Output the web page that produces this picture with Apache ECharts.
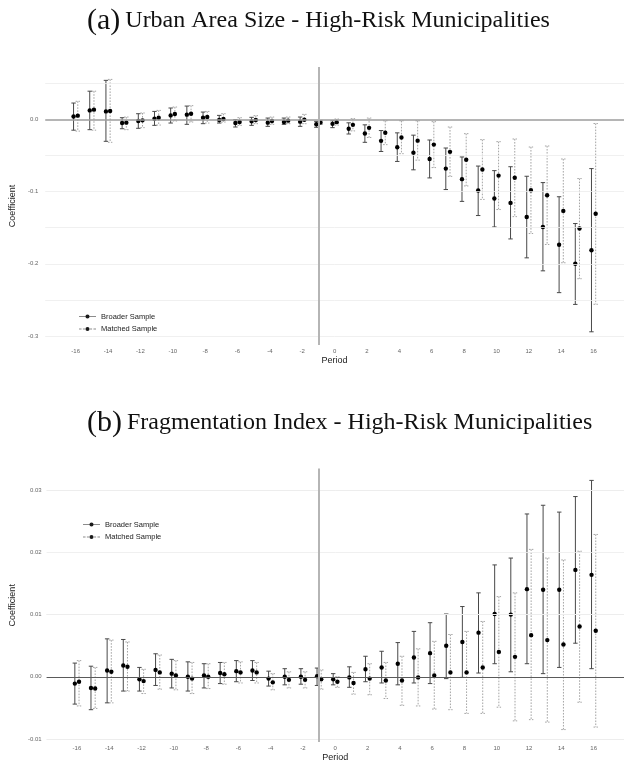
<!DOCTYPE html>
<html>
<head>
<meta charset="utf-8">
<script src="https://cdn.jsdelivr.net/npm/echarts@6/dist/echarts.min.js"></script>
<style>
  html, body { margin: 0; padding: 0; background: #ffffff; }
  #chart { width: 624px; height: 763px; }
</style>
</head>
<body>
<div id="chart"></div>
<script>
// Event-study periods relative to treatment
const periods = [-16,-15,-14,-13,-12,-11,-10,-9,-8,-7,-6,-5,-4,-3,-2,-1,0,1,2,3,4,5,6,7,8,9,10,11,12,13,14,15,16];
const periodTicks = [-16,-14,-12,-10,-8,-6,-4,-2,0,2,4,6,8,10,12,14,16];

// (a) Urban area size — broader sample: estimate, upper and lower CI
const urbanBroaderEst = [0.004,0.0124,0.011,-0.0051,-0.0023,0.0009,0.0055,0.0065,0.0023,-0.0009,-0.0051,-0.0028,-0.0046,-0.0037,-0.0032,-0.0067,-0.0062,-0.013,-0.0196,-0.0298,-0.0387,-0.0461,-0.0549,-0.0682,-0.0828,-0.0986,-0.1097,-0.1157,-0.1353,-0.149,-0.1736,-0.1999,-0.1812];
const urbanBroaderHi  = [0.0226,0.039,0.054,0.0023,0.0078,0.011,0.0157,0.0184,0.0101,0.0055,-0.0005,0.0028,0.0018,0.0018,0.0032,-0.0028,-0.002,-0.0048,-0.0076,-0.0155,-0.0187,-0.0219,-0.0286,-0.0397,-0.0521,-0.0647,-0.071,-0.0656,-0.0788,-0.0876,-0.1072,-0.1443,-0.0682];
const urbanBroaderLo  = [-0.015,-0.0143,-0.0304,-0.013,-0.0124,-0.0083,-0.0051,-0.0069,-0.006,-0.0051,-0.0106,-0.0083,-0.0097,-0.0069,-0.0097,-0.011,-0.0115,-0.0203,-0.0318,-0.0445,-0.0583,-0.0699,-0.0811,-0.0972,-0.1136,-0.1332,-0.149,-0.1656,-0.1918,-0.2098,-0.24,-0.2563,-0.2942];

// (a) Urban area size — matched sample
const urbanMatchedEst = [0.0051,0.0134,0.0115,-0.0046,-0.0014,0.0023,0.0074,0.0078,0.0032,0.0005,-0.0037,-0.0009,-0.0023,-0.0018,-0.0005,-0.0044,-0.0039,-0.0076,-0.0118,-0.0186,-0.0251,-0.0295,-0.035,-0.045,-0.056,-0.0694,-0.0779,-0.0809,-0.0982,-0.1051,-0.1268,-0.1512,-0.1307];
const urbanMatchedHi  = [0.025,0.039,0.0553,0.0032,0.0088,0.0124,0.0171,0.019,0.011,0.0078,0.0023,0.0051,0.0032,0.0032,0.0069,-0.0014,0.0005,0.001,0.0018,-0.002,-0.002,-0.002,-0.0032,-0.0106,-0.0198,-0.0281,-0.0309,-0.0272,-0.0383,-0.0369,-0.0549,-0.082,-0.0058];
const urbanMatchedLo  = [-0.0163,-0.015,-0.0318,-0.0143,-0.0115,-0.0079,-0.0023,-0.0037,-0.0051,-0.0037,-0.0083,-0.006,-0.0069,-0.006,-0.006,-0.0069,-0.008,-0.016,-0.0251,-0.035,-0.0475,-0.0565,-0.0668,-0.079,-0.0922,-0.1109,-0.1249,-0.1347,-0.1581,-0.1733,-0.1986,-0.2207,-0.2561];

// (b) Fragmentation index — broader sample
const fragBroaderEst = [-0.0011,-0.0018,0.001,0.0018,-0.0004,0.0011,0.0005,0.0,0.0002,0.0006,0.0009,0.001,-0.0003,0.0,0.0,0.0001,-0.0004,-0.0001,0.0012,0.0015,0.0021,0.0031,0.0038,0.005,0.0056,0.0071,0.0101,0.01,0.0141,0.014,0.014,0.0172,0.0164];
const fragBroaderHi  = [0.0022,0.0017,0.0061,0.006,0.0015,0.0037,0.0028,0.0024,0.0021,0.0023,0.0026,0.0026,0.0009,0.0013,0.0013,0.0014,0.0005,0.0016,0.0033,0.0041,0.0055,0.0073,0.0087,0.0101,0.0113,0.0135,0.018,0.0191,0.0262,0.0276,0.0265,0.029,0.0316];
const fragBroaderLo  = [-0.0044,-0.0053,-0.0042,-0.0023,-0.0023,-0.0014,-0.0018,-0.0023,-0.0018,-0.0011,-0.0008,-0.0006,-0.0015,-0.0013,-0.0012,-0.0014,-0.0013,-0.0017,-0.0008,-0.001,-0.0013,-0.001,-0.0011,-0.0003,-0.0001,0.0006,0.0021,0.0008,0.0021,0.0005,0.0015,0.0054,0.0013];

// (b) Fragmentation index — matched sample
const fragMatchedEst = [-0.0008,-0.0019,0.0008,0.0016,-0.0007,0.0007,0.0002,-0.0003,0.0,0.0004,0.0007,0.0007,-0.0009,-0.0005,-0.0005,-0.0004,-0.0008,-0.001,-0.0003,-0.0006,-0.0006,-0.0001,0.0002,0.0007,0.0007,0.0015,0.004,0.0032,0.0067,0.0059,0.0052,0.0081,0.0074];
const fragMatchedHi  = [0.0026,0.0015,0.0059,0.0056,0.0012,0.0035,0.0026,0.0023,0.0021,0.0023,0.0024,0.0023,0.0005,0.0008,0.0008,0.0011,0.0,0.0007,0.0021,0.0023,0.0033,0.0045,0.0057,0.0068,0.0073,0.0089,0.0129,0.0135,0.0205,0.0191,0.0188,0.0202,0.0229];
const fragMatchedLo  = [-0.0047,-0.0051,-0.0042,-0.0023,-0.0027,-0.002,-0.0021,-0.0027,-0.0019,-0.0012,-0.001,-0.001,-0.0021,-0.0018,-0.0018,-0.002,-0.0017,-0.0028,-0.0029,-0.0035,-0.0046,-0.0047,-0.0052,-0.0053,-0.0059,-0.0059,-0.0049,-0.0071,-0.0069,-0.0073,-0.0085,-0.0041,-0.0081];

// y-axis tick labels and light grid values
const urbanTicks = [-0.3,-0.2,-0.1,0.0];
const urbanGrid  = [0.05,-0.05,-0.1,-0.15,-0.2,-0.25,-0.3];
const fragTicks  = [-0.01,0.0,0.01,0.02,0.03];
const fragGrid   = [0.03,0.025,0.02,0.015,0.01,0.005,-0.005,-0.01];

const TREAT_LINE = -1;
const DODGE = 0.13;
const SANS = 'Liberation Sans';
const SERIF = 'Liberation Serif';

const solidIcon = 'path://M0,2.6H20V3.4H0Z M7.6,3A2.4,2.4 0 1 1 12.4,3A2.4,2.4 0 1 1 7.6,3Z';
const dashIcon  = 'path://M0,2.6H3V3.4H0Z M4.6,2.6H7V3.4H4.6Z M13,2.6H15.4V3.4H13Z M17,2.6H20V3.4H17Z M7.6,3A2.4,2.4 0 1 1 12.4,3A2.4,2.4 0 1 1 7.6,3Z';

const solidStyle  = { color: '#484848', width: 1, dash: null };
const dashedStyle = { color: '#8e8e8e', width: 0.8, dash: [1.6, 1.4] };

function errorBars(name, idx, est, hi, lo, dx, st) {
  return {
    type: 'custom',
    name: name,
    xAxisIndex: idx,
    yAxisIndex: idx,
    z: 4,
    itemStyle: { color: '#1a1a1a' },
    data: periods.map((p, i) => [p, est[i], lo[i], hi[i]]),
    renderItem: function (params, api) {
      const x = api.value(0) + dx;
      const pt = api.coord([x, api.value(1)]);
      const lower = api.coord([x, api.value(2)]);
      const upper = api.coord([x, api.value(3)]);
      const cap = 2.2;
      const ls = { stroke: st.color, lineWidth: st.width, lineDash: st.dash };
      return {
        type: 'group',
        children: [
          { type: 'line', shape: { x1: pt[0], y1: upper[1], x2: pt[0], y2: lower[1] }, style: ls },
          { type: 'line', shape: { x1: pt[0] - cap, y1: upper[1], x2: pt[0] + cap, y2: upper[1] }, style: ls },
          { type: 'line', shape: { x1: pt[0] - cap, y1: lower[1], x2: pt[0] + cap, y2: lower[1] }, style: ls },
          { type: 'circle', shape: { cx: pt[0], cy: pt[1], r: 2.2 }, style: { fill: '#000' } }
        ]
      };
    }
  };
}

function guideSeries(idx, gridVals, zeroStyle, vStyle) {
  const lines = gridVals.map(v => ({ yAxis: v, lineStyle: { color: '#ececec', width: 0.8, type: 'solid' } }));
  lines.push({ yAxis: 0, lineStyle: zeroStyle });
  lines.push({ xAxis: TREAT_LINE, lineStyle: vStyle });
  return {
    type: 'line',
    name: 'guides' + idx,
    xAxisIndex: idx,
    yAxisIndex: idx,
    data: [],
    z: 1,
    silent: true,
    markLine: {
      silent: true,
      symbol: ['none', 'none'],
      label: { show: false },
      animation: false,
      data: lines
    }
  };
}

function xAxisFor(idx) {
  return {
    type: 'value', gridIndex: idx, min: -17.88, max: 17.88,
    name: 'Period', nameLocation: 'middle', nameGap: 11,
    nameTextStyle: { fontFamily: SANS, fontSize: 9, color: '#222' },
    axisLine: { show: false }, axisTick: { show: false }, splitLine: { show: false },
    axisLabel: { customValues: periodTicks, fontFamily: SANS, fontSize: 6, color: '#666', margin: 3 }
  };
}

function yAxisFor(idx, min, max, ticks, digits, gap, margin) {
  return {
    type: 'value', gridIndex: idx, min: min, max: max,
    name: 'Coefficient', nameLocation: 'middle', nameGap: gap, nameRotate: 90,
    nameTextStyle: { fontFamily: SANS, fontSize: 9, color: '#222' },
    axisLine: { show: false }, axisTick: { show: false }, splitLine: { show: false },
    axisLabel: {
      customValues: ticks, fontFamily: SANS, fontSize: 6, color: '#666', margin: margin,
      formatter: v => Number(v).toFixed(digits)
    }
  };
}

function legendAt(left, top) {
  return {
    left: left, top: top, orient: 'vertical', padding: 0,
    itemWidth: 17, itemHeight: 5, itemGap: 1.5,
    selectedMode: false,
    textStyle: { fontFamily: SANS, fontSize: 7.5, color: '#222', lineHeight: 11 },
    data: [
      { name: 'Broader Sample', icon: solidIcon },
      { name: 'Matched Sample', icon: dashIcon }
    ]
  };
}

function titleAt(top, tag, text) {
  return {
    left: 87, top: top, padding: 0,
    text: '{l|' + tag + '} {t|' + text + '}',
    textStyle: {
      fontWeight: 'normal',
      rich: {
        l: { fontFamily: SERIF, fontSize: 30, fontWeight: 'normal', color: '#111', lineHeight: 30 },
        t: { fontFamily: SERIF, fontSize: 24, fontWeight: 'normal', color: '#111', lineHeight: 30 }
      }
    }
  };
}

const chart = echarts.init(document.getElementById('chart'), null, { renderer: 'canvas' });
chart.setOption({
  animation: false,
  backgroundColor: '#ffffff',
  title: [
    titleAt(6, '(a)', 'Urban Area Size - High-Risk Municipalities'),
    titleAt(408, '(b)', 'Fragmentation Index - High-Risk Municipalities')
  ],
  legend: [legendAt(79, 311), legendAt(83, 519)],
  grid: [
    { left: 38.1, top: 67, width: 595, height: 278 },
    { left: 41.2, top: 468.6, width: 592.2, height: 278.1 }
  ],
  xAxis: [xAxisFor(0), xAxisFor(1)],
  yAxis: [
    yAxisFor(0, -0.3125, 0.0725, urbanTicks, 1, 15, 7),
    yAxisFor(1, -0.0105, 0.0335, fragTicks, 2, 18, 5)
  ],
  series: [
    guideSeries(0, urbanGrid, { color: '#9c9c9c', width: 1.6, type: 'solid' }, { color: '#b5b5b5', width: 2, type: 'solid' }),
    guideSeries(1, fragGrid, { color: '#5a5a5a', width: 1, type: 'solid' }, { color: '#b5b5b5', width: 2, type: 'solid' }),
    errorBars('Broader Sample', 0, urbanBroaderEst, urbanBroaderHi, urbanBroaderLo, -DODGE, solidStyle),
    errorBars('Matched Sample', 0, urbanMatchedEst, urbanMatchedHi, urbanMatchedLo, DODGE, dashedStyle),
    errorBars('Broader Sample', 1, fragBroaderEst, fragBroaderHi, fragBroaderLo, -DODGE, solidStyle),
    errorBars('Matched Sample', 1, fragMatchedEst, fragMatchedHi, fragMatchedLo, DODGE, dashedStyle)
  ]
});
</script>
</body>
</html>
